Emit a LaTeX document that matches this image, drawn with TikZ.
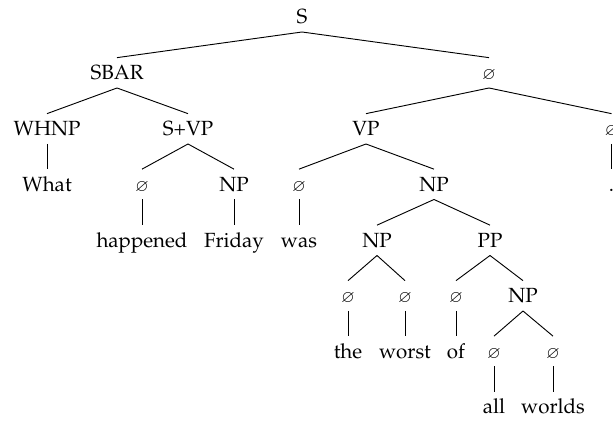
\documentclass[tikz,border=0pt]{standalone}
\usepackage[T1]{fontenc}
\usepackage{mathpazo}
\usepackage{amssymb}
\newcommand{\nul}{{\footnotesize$\varnothing$}}
\begin{document}
\begin{tikzpicture}[x=0.4878pt,y=-0.4878pt,
  lbl/.style={anchor=base,inner xsep=0pt,inner ysep=3.7pt,text height=7pt,text depth=0pt,font=\fontsize{10}{12}\selectfont},
  edge/.style={draw=black,line width=0.45pt}]
\useasboundingbox (0,0) rectangle (613,421);
\clip (0,0) rectangle (613,421);
% level 0
\node[lbl] (s) at (302,24) {S};
% level 1
\node[lbl] (sbar) at (117,80) {SBAR};
\node[lbl] (r) at (489,80) {\nul};
% level 2
\node[lbl] (whnp) at (47,136) {WHNP};
\node[lbl] (svp) at (188,136) {S+VP};
\node[lbl] (vp) at (366,136) {VP};
\node[lbl] (rr) at (611.5,136) {\nul};
% level 3
\node[lbl] (what) at (47,191.5) {What};
\node[lbl] (n1) at (142,191.5) {\nul};
\node[lbl] (np1) at (234,191.5) {NP};
\node[lbl] (n2) at (299,191.5) {\nul};
\node[lbl] (np2) at (434,191.5) {NP};
\node[lbl] (dot) at (611.5,191.5) {.};
% level 4
\node[lbl] (happened) at (142,247.5) {happened};
\node[lbl] (friday) at (234,247.5) {Friday};
\node[lbl] (was) at (299,247.5) {was};
\node[lbl] (np3) at (377,247.5) {NP};
\node[lbl] (pp) at (490,247.5) {PP};
% level 5
\node[lbl] (n3) at (348,303) {\nul};
\node[lbl] (n4) at (405,303) {\nul};
\node[lbl] (n5) at (456,303) {\nul};
\node[lbl] (np4) at (523,303) {NP};
% level 6
\node[lbl] (the) at (348,358.5) {the};
\node[lbl] (worst) at (405,358.5) {worst};
\node[lbl] (of) at (456,358.5) {of};
\node[lbl] (n6) at (494,358.5) {\nul};
\node[lbl] (n7) at (553,358.5) {\nul};
% level 7
\node[lbl] (all) at (494,414) {all};
\node[lbl] (worlds) at (553,414) {worlds};
% branches
\foreach \p/\c in {s/sbar,s/r,sbar/whnp,sbar/svp,r/vp,r/rr,whnp/what,svp/n1,svp/np1,
  vp/n2,vp/np2,rr/dot,n1/happened,np1/friday,n2/was,np2/np3,np2/pp,np3/n3,np3/n4,
  pp/n5,pp/np4,n3/the,n4/worst,n5/of,np4/n6,np4/n7,n6/all,n7/worlds}
  \draw[edge] (\p.south) -- (\c.north);
\end{tikzpicture}
\end{document}
